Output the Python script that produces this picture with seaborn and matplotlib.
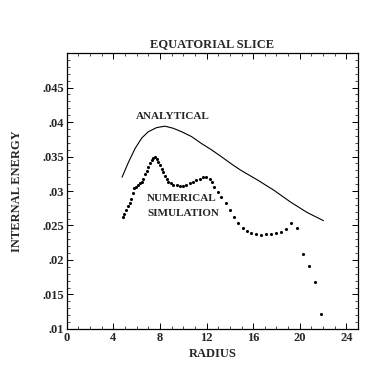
import matplotlib
matplotlib.use("Agg")
import matplotlib.pyplot as plt
import seaborn as sns
import pandas as pd
from matplotlib.ticker import MultipleLocator, FuncFormatter

analytic_r = [4.74, 5.30, 5.87, 6.44, 7.00, 7.72, 8.43, 9.13, 9.85, 10.70, 11.55,
              12.40, 13.25, 14.24, 14.95, 16.37, 17.79, 19.21, 20.62, 22.04]
analytic_e = [0.0320, 0.0342, 0.0362, 0.0377, 0.0386, 0.0392, 0.0394, 0.0391, 0.0386,
              0.0379, 0.0369, 0.0360, 0.0350, 0.0338, 0.0330, 0.0316, 0.0301, 0.0284,
              0.0269, 0.0257]

numeric_r = [4.79, 4.94, 5.11, 5.25, 5.39, 5.51, 5.64, 5.79, 5.96, 6.15, 6.30, 6.44,
             6.58, 6.72, 6.87, 7.00, 7.15, 7.29, 7.43, 7.57, 7.72, 7.86, 8.00, 8.14,
             8.28, 8.43, 8.57, 8.71, 8.94, 9.13, 9.42, 9.70, 9.98, 10.27, 10.55, 10.83,
             11.12, 11.40, 11.69, 11.97, 12.26, 12.45, 12.68, 12.96, 13.25, 13.68, 14.04,
             14.38, 14.72, 15.09, 15.46, 15.80, 16.23, 16.66, 17.08, 17.51, 17.93, 18.36,
             18.83, 19.26, 19.77, 20.28, 20.83, 21.28, 21.81]
numeric_e = [0.0262, 0.0267, 0.0273, 0.0278, 0.0283, 0.0289, 0.0297, 0.0304, 0.0306,
             0.0308, 0.0311, 0.0313, 0.0318, 0.0324, 0.0329, 0.0335, 0.0340, 0.0345,
             0.0348, 0.0350, 0.0346, 0.0342, 0.0338, 0.0332, 0.0327, 0.0322, 0.0317,
             0.0313, 0.0311, 0.0309, 0.0308, 0.0307, 0.0307, 0.0308, 0.0311, 0.0313,
             0.0316, 0.0318, 0.0320, 0.0320, 0.0318, 0.0313, 0.0306, 0.0299, 0.0291,
             0.0282, 0.0273, 0.0263, 0.0254, 0.0246, 0.0242, 0.0239, 0.0237, 0.0236,
             0.0237, 0.0238, 0.0239, 0.0240, 0.0245, 0.0253, 0.0246, 0.0209, 0.0191,
             0.0168, 0.0121]

x_ticks = [0, 4, 8, 12, 16, 20, 24]
y_ticks = [0.01, 0.015, 0.02, 0.025, 0.03, 0.035, 0.04, 0.045]

sns.set_style("ticks")
plt.rcParams['font.family'] = ['Liberation Serif', 'DejaVu Serif']

fig = plt.figure(figsize=(3.82, 3.82), dpi=100)
ax = fig.add_axes([0.175, 0.139, 0.762, 0.722])

df_a = pd.DataFrame({"r": analytic_r, "e": analytic_e})
df_n = pd.DataFrame({"r": numeric_r, "e": numeric_e})
sns.lineplot(data=df_a, x="r", y="e", ax=ax, color="black", linewidth=0.8)
sns.scatterplot(data=df_n, x="r", y="e", ax=ax, color="black", marker="o", s=5,
                linewidth=0)

ax.set_xlim(0, 25)
ax.set_ylim(0.01, 0.05)
ax.set_xticks(x_ticks)
ax.set_yticks(y_ticks)
ax.xaxis.set_minor_locator(MultipleLocator(1))
ax.yaxis.set_minor_locator(MultipleLocator(0.001))
ax.yaxis.set_major_formatter(FuncFormatter(lambda v, p: ("%g" % v).lstrip("0")))
ax.tick_params(which="both", direction="in", top=True, right=True, color="black")
ax.tick_params(which="major", length=4, width=0.7, labelsize=9, pad=2)
ax.tick_params(which="minor", length=2, width=0.5)
for s in ax.spines.values():
    s.set_color("black")
    s.set_linewidth(0.9)
for lab in ax.get_xticklabels() + ax.get_yticklabels():
    lab.set_fontweight("bold")

ax.set_xlabel("RADIUS", fontsize=9, fontweight="bold", labelpad=3)
ax.set_ylabel("INTERNAL ENERGY", fontsize=9, fontweight="bold", labelpad=14)
ax.set_title("EQUATORIAL SLICE", fontsize=9, fontweight="bold", pad=4)

ax.text(9.1, 0.0408, "ANALYTICAL", fontsize=8, fontweight="bold", ha="center", va="center")
ax.text(6.9, 0.0289, "NUMERICAL", fontsize=8, fontweight="bold", ha="left", va="center")
ax.text(6.9, 0.0267, "SIMULATION", fontsize=8, fontweight="bold", ha="left", va="center")

fig.savefig("out.png", dpi=100, facecolor="white")
